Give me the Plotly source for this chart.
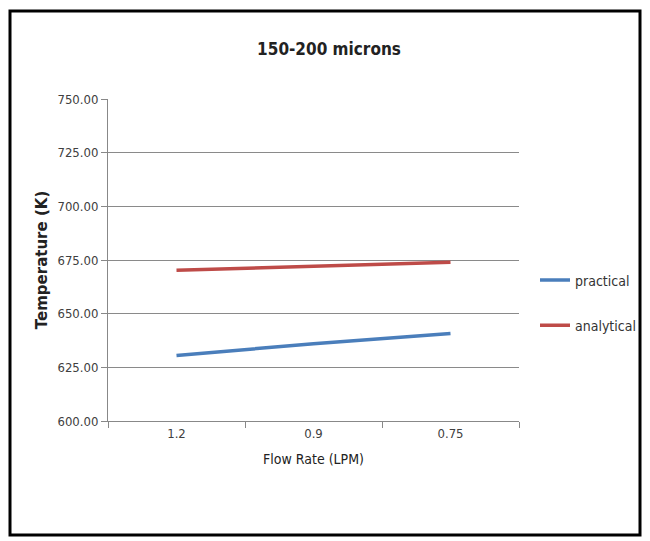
import plotly.graph_objects as go

flow_rates = ["1.2", "0.9", "0.75"]
practical = [630.5, 636.0, 640.8]
analytical = [670.2, 672.0, 674.0]
y_ticks = [600, 625, 650, 675, 700, 725, 750]

# page has an 8px body margin; work in page coordinates and shift
O = 8
W, H = 650 - O, 541 - O
L, R, T, B = 108 - O, 519 - O, 99 - O, 421 - O
pw, ph = R - L, B - T

def px(x):
    return (x - O - L) / pw

def py(y):
    return (B - (y - O)) / ph

fig = go.Figure()
fig.add_trace(go.Scatter(x=flow_rates, y=practical, mode="lines", name="practical",
                         line=dict(color="#4a7ebb", width=3.5), legendgroup="a"))
fig.add_trace(go.Scatter(x=flow_rates, y=analytical, mode="lines", name="analytical",
                         line=dict(color="#be4b48", width=3.5), legendgroup="b"))

font_fam = "Liberation Sans Narrow, DejaVu Sans Condensed, Open Sans, Arial"

fig.update_layout(
    width=W, height=H,
    margin=dict(l=L, r=W - R, t=T, b=H - B, pad=0, autoexpand=False),
    paper_bgcolor="white", plot_bgcolor="white",
    title=dict(text="<b>150-200 microns</b>", x=(329 - O) / W, xanchor="center", xref="container",
               y=1 - (49 - O) / H, yanchor="middle", yref="container",
               font=dict(family=font_fam, size=17, color="#222")),
    xaxis=dict(type="category", categoryorder="array", categoryarray=flow_rates,
               range=[-0.5, 2.5], automargin=False,
               showline=True, linecolor="#888", linewidth=1,
               ticks="outside", ticklen=6, tickcolor="#888", tickson="boundaries",
               showgrid=False, zeroline=False,
               tickfont=dict(family=font_fam, size=13, color="#404040"),
               title=dict(text="Flow Rate (LPM)", standoff=14,
                          font=dict(family=font_fam, size=14, color="#222"))),
    yaxis=dict(range=[600, 750], tickvals=y_ticks, automargin=False,
               ticktext=[f"{v:.2f}" for v in y_ticks],
               showline=True, linecolor="#888", linewidth=1,
               ticks="outside", ticklen=6, tickcolor="#888",
               showgrid=True, gridcolor="#8a8a8a", gridwidth=1, zeroline=False,
               tickfont=dict(family=font_fam, size=13, color="#404040"),
               title=dict(text="<b>Temperature (K)</b>", standoff=6,
                          font=dict(family="DejaVu Sans, Verdana", size=15, color="#222"))),
    legend=dict(x=(535 - O) / W, y=1 - (303 - O) / H, xref="container", yref="container",
                xanchor="left", yanchor="middle",
                font=dict(family=font_fam, size=14, color="#333"),
                tracegroupgap=24, bgcolor="rgba(0,0,0,0)"),
    showlegend=True,
)

fig.add_shape(type="rect", xref="paper", yref="paper",
              x0=px(10), x1=px(640), y0=py(535), y1=py(11),
              line=dict(color="black", width=3), fillcolor="rgba(0,0,0,0)", layer="above")

fig.write_html("out.html")
